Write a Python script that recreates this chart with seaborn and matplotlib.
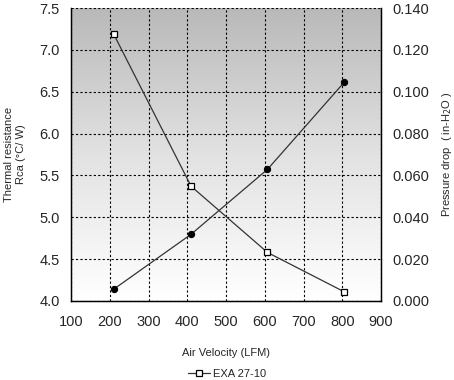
import matplotlib
matplotlib.use("Agg")
import matplotlib.pyplot as plt
import seaborn as sns
import numpy as np
import pandas as pd

# data
air_velocity = [210, 410, 607, 805]
thermal_res = [7.19, 5.37, 4.58, 4.11]
air_velocity_dp = [210, 410, 607, 805]
pressure_drop = [0.0056, 0.0319, 0.0629, 0.1045]

x_ticks = [100, 200, 300, 400, 500, 600, 700, 800, 900]
left_ticks = [4.0, 4.5, 5.0, 5.5, 6.0, 6.5, 7.0, 7.5]
right_ticks = [0.000, 0.020, 0.040, 0.060, 0.080, 0.100, 0.120, 0.140]

df_rth = pd.DataFrame({"x": air_velocity, "y": thermal_res})
df_dp = pd.DataFrame({"x": air_velocity_dp, "y": pressure_drop})

sns.set_style("white")
plt.rcParams["font.family"] = ["Liberation Sans", "DejaVu Sans"]

fig = plt.figure(figsize=(4.54, 3.8), dpi=100)
ax = fig.add_axes([71 / 454, 1 - 301 / 380, 310 / 454, 293 / 380])
ax2 = ax.twinx()

# gradient background (white bottom -> gray top)
grad = np.linspace(0, 1, 256).reshape(-1, 1)
bg_cmap = matplotlib.colors.LinearSegmentedColormap.from_list(
    "bg", ["#ffffff", "#e2e2e2", "#b9b9b9"])
ax.imshow(grad, extent=[0, 1, 0, 1], transform=ax.transAxes, cmap=bg_cmap,
          aspect="auto", zorder=0, origin="lower")

sns.lineplot(data=df_rth, x="x", y="y", ax=ax, color="#333333", lw=0.9,
             marker="s", markersize=5, markerfacecolor="white",
             markeredgecolor="black", markeredgewidth=0.9, zorder=3,
             label="EXA 27-10", legend=False)
sns.lineplot(data=df_dp, x="x", y="y", ax=ax2, color="#333333", lw=0.9,
             marker="o", markersize=4.5, markerfacecolor="black",
             markeredgecolor="black", zorder=3, legend=False)

ax.set_xlim(100, 900)
ax.set_ylim(4.0, 7.5)
ax2.set_ylim(0, 0.14)
ax.set_xticks(x_ticks)
ax.set_yticks(left_ticks)
ax2.set_yticks(right_ticks)
ax.set_xticklabels([str(v) for v in x_ticks])
ax.set_yticklabels([f"{v:.1f}" for v in left_ticks])
ax2.set_yticklabels([f"{v:.3f}" for v in right_ticks])

for a in (ax, ax2):
    a.tick_params(labelsize=10.5, length=0, pad=8)
ax.tick_params(axis="x", pad=10)
ax.grid(True, color="black", linestyle=(0, (2, 2)), linewidth=0.8)
ax.set_axisbelow(False)

ax.spines["top"].set_visible(False)
ax2.spines["top"].set_visible(False)
for s in ("left", "bottom", "right"):
    ax2.spines[s].set_color("black")
    ax2.spines[s].set_linewidth(1.0)
ax.spines["left"].set_color("black")
ax.spines["bottom"].set_color("black")

ax.set_xlabel("Air Velocity (LFM)", fontsize=8, labelpad=14)
ax.set_ylabel("Thermal resistance\nRca (°C/ W)", fontsize=8, labelpad=10)
ax2.set_ylabel("Pressure drop  ( in-H$_2$O )", fontsize=8, labelpad=8)

fig.legend(handles=ax.get_lines()[:1], labels=["EXA 27-10"], loc="center",
           bbox_to_anchor=(227 / 454, 1 - 374 / 380), frameon=False,
           fontsize=8, handlelength=2.0, handletextpad=0.3)

fig.savefig("out.png", dpi=100)
